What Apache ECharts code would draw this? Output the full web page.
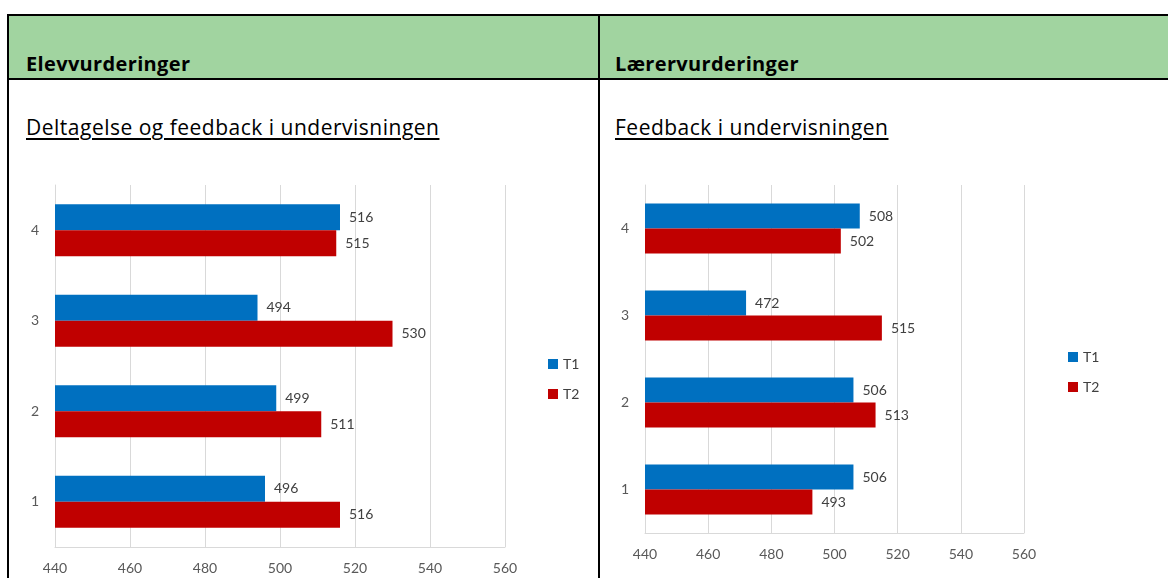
<!DOCTYPE html>
<html>
<head>
<meta charset="utf-8">
<title>Elev- og lærervurderinger</title>
<script src="https://cdn.jsdelivr.net/npm/echarts@6/dist/echarts.min.js"></script>
<style>
  html, body { margin: 0; padding: 0; background: #fff; }
  #page { position: relative; width: 1168px; height: 578px; overflow: hidden; font-family: "Open Sans", Lato, sans-serif; }
  .head { position: absolute; top: 15px; height: 63px; background: #A1D4A0; }
  .hline { position: absolute; height: 2px; background: #000; }
  .vline { position: absolute; width: 2px; background: #000; top: 14px; bottom: 0; }
  .htext { position: absolute; top: 51px; font-weight: bold; font-size: 20px; letter-spacing: 0.35px; color: #000; line-height: 26px; }
  .sub { position: absolute; top: 114px; font-size: 21px; letter-spacing: 0.5px; color: #000; line-height: 26px; text-decoration: underline; text-underline-offset: 3px; text-decoration-thickness: 1.5px; }
  #chart { position: absolute; left: 0; top: 0; width: 1168px; height: 578px; }
</style>
</head>
<body>
<div id="page">
  <div class="head" style="left:8px; width:1160px;"></div>
  <div class="hline" style="left:8px; right:0; top:14px;"></div>
  <div class="hline" style="left:8px; right:0; top:78px;"></div>
  <div class="vline" style="left:7px;"></div>
  <div class="vline" style="left:598px;"></div>
  <div class="htext" style="left:26px;">Elevvurderinger</div>
  <div class="htext" style="left:615px;">Lærervurderinger</div>
  <div class="sub" style="left:26px;">Deltagelse og feedback i undervisningen</div>
  <div class="sub" style="left:615px;">Feedback i undervisningen</div>
  <div id="chart"></div>
</div>
<script>
// Categories (bottom to top) and scores per measurement point
const categories = ['1', '2', '3', '4'];
const seriesNames = ['T1', 'T2'];

// Elevvurderinger: Deltagelse og feedback i undervisningen
const elevT1 = [496, 499, 494, 516];
const elevT2 = [516, 511, 530, 515];

// Lærervurderinger: Feedback i undervisningen
const laererT1 = [506, 506, 472, 508];
const laererT2 = [493, 513, 515, 502];

// Value axis range and ticks
const axisMin = 440;
const axisMax = 560;
const axisStep = 20;

const colors = ['#0070C0', '#C00000'];
const font = 'Lato, "Open Sans", sans-serif';
const gridGray = '#D9D9D9';

function xAxisFor(gridIndex) {
  return {
    type: 'value', gridIndex, min: axisMin, max: axisMax, interval: axisStep,
    axisLine: { show: true, lineStyle: { color: gridGray, width: 1 } },
    axisTick: { show: false },
    splitLine: { show: true, lineStyle: { color: gridGray, width: 1 } },
    axisLabel: { color: '#595959', fontSize: 14, fontFamily: font, margin: 14 }
  };
}
function yAxisFor(gridIndex) {
  return {
    type: 'category', gridIndex, data: categories,
    axisLine: { show: true, lineStyle: { color: gridGray, width: 1 } },
    axisTick: { show: false },
    axisLabel: { color: '#595959', fontSize: 14, fontFamily: font, margin: 16 }
  };
}
function barSeries(name, data, idx, barWidth) {
  return {
    type: 'bar', name, data, xAxisIndex: idx, yAxisIndex: idx,
    barWidth, barGap: '0%',
    itemStyle: { color: colors[seriesNames.indexOf(name)] },
    label: { show: true, position: 'right', distance: 9, color: '#404040', fontSize: 14, fontFamily: font },
    animation: false
  };
}

const legendText = { color: '#404040', fontSize: 14, fontFamily: font };

const chart = echarts.init(document.getElementById('chart'), null, { renderer: 'canvas' });
chart.setOption({
  backgroundColor: 'transparent',
  animation: false,
  color: colors,
  grid: [
    { left: 55, right: 663, top: 185, bottom: 31 },
    { left: 645, right: 144, top: 185, bottom: 45 }
  ],
  xAxis: [xAxisFor(0), xAxisFor(1)],
  yAxis: [yAxisFor(0), yAxisFor(1)],
  legend: [
    { data: seriesNames, orient: 'vertical', left: 543, top: 352, itemWidth: 10, itemHeight: 10, itemGap: 16,
      textStyle: legendText, icon: 'rect' },
    { data: seriesNames, orient: 'vertical', left: 1063, top: 345, itemWidth: 10, itemHeight: 10, itemGap: 16,
      textStyle: legendText, icon: 'rect' }
  ],
  series: [
    barSeries('T1', elevT1, 0, 26),
    barSeries('T2', elevT2, 0, 26),
    barSeries('T1', laererT1, 1, 25),
    barSeries('T2', laererT2, 1, 25)
  ]
});
</script>
</body>
</html>
